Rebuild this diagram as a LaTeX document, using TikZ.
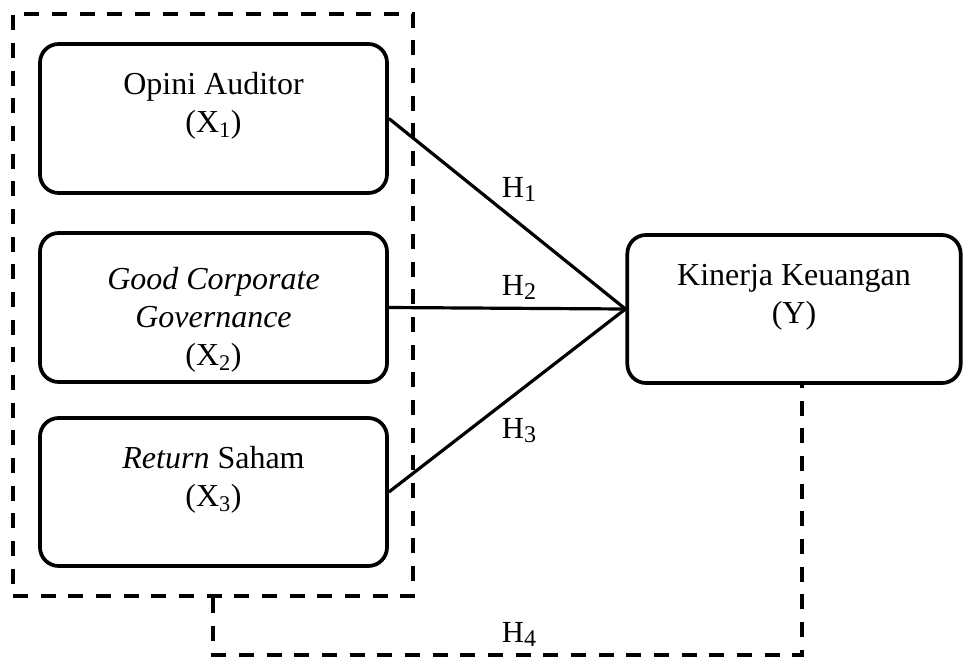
\documentclass[tikz,border=0pt]{standalone}
\usepackage{fontspec}
\setmainfont{Liberation Serif}
\begin{document}
\begin{tikzpicture}[x=0.75pt,y=-0.75pt,
  box/.style={draw,line width=2.8pt,rounded corners=14pt,inner sep=0pt},
  txt/.style={align=center,inner sep=0pt,anchor=north,font=\fontsize{24}{28.5}\selectfont},
  hlab/.style={inner sep=0pt,anchor=base,font=\fontsize{23}{23}\selectfont},
  link/.style={line width=2.4pt},
  dsh/.style={line width=3pt,dash pattern=on 11.25pt off 9.5pt}]
\useasboundingbox (0,0) rectangle (963,657);
% dashed group
\node[dsh,draw,inner sep=0pt,minimum width=300pt,minimum height=436.5pt] (grp) at (213,305) {};
% boxes
\node[box,minimum width=260.25pt,minimum height=111.75pt] (b1) at (213.5,118.5) {};
\node[box,minimum width=260.25pt,minimum height=111.75pt] (b2) at (213.5,307.5) {};
\node[box,minimum width=260.25pt,minimum height=111pt] (b3) at (213.5,492) {};
\node[box,minimum width=250pt,minimum height=111pt] (Y) at (794,309) {};
% texts
\node[txt] (t1) at (213.5,67.4) {\strut Opini Auditor\\(X\textsubscript{1})};
\node[txt] (t2) at (213.5,263) {\strut\textit{Good Corporate}\\\textit{Governance}\\(X\textsubscript{2})};
\node[txt] (t3) at (213.5,441.4) {\strut\textit{Return} Saham\\(X\textsubscript{3})};
\node[txt] (tY) at (794,258.4) {\strut Kinerja Keuangan\\(Y)};
% links
\draw[link] (b1.east) -- (Y.west);
\draw[link] (b2.east) -- (Y.west);
\draw[link] (b3.east) -- (Y.west);
\node[hlab] (h1) at (519,197) {H\raisebox{-0.32ex}{\fontsize{18}{18}\selectfont 1}};
\node[hlab] (h2) at (519,295) {H\raisebox{-0.32ex}{\fontsize{18}{18}\selectfont 2}};
\node[hlab] (h3) at (519,438) {H\raisebox{-0.32ex}{\fontsize{18}{18}\selectfont 3}};
% H4 dashed link
\coordinate (hb) at (500,655);
\draw[dsh] (grp.south) |- (hb) -| ([xshift=6pt]Y.south);
\node[hlab] (h4) at (519,642) {H\raisebox{-0.32ex}{\fontsize{18}{18}\selectfont 4}};
\end{tikzpicture}
\end{document}
